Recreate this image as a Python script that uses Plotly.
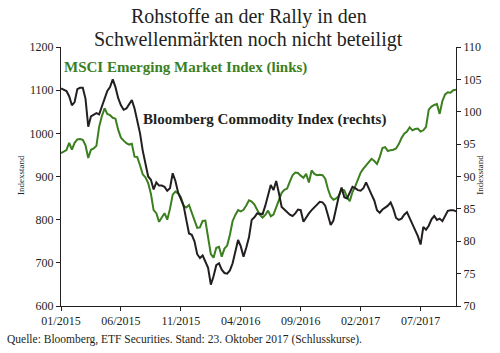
import pandas as pd
import plotly.graph_objects as go

# Weekly observations (Fridays), Jan 2015 - Oct 2017
dates = pd.date_range("2015-01-02", periods=146, freq="7D")

msci = [954, 958, 961, 978, 962, 978, 986, 987, 985, 972,
        943, 962, 965, 971, 1015, 1040, 1058, 1045, 1042, 1036,
        1034, 1008, 990, 983, 977, 974, 976, 946, 945, 926,
        905, 898, 885, 860, 822, 815, 795, 805, 815, 800,
        825, 858, 865, 861, 852, 832, 828, 834, 815, 801,
        781, 782, 797, 798, 756, 720, 712, 735, 737, 714,
        733, 740, 765, 797, 811, 822, 819, 823, 833, 845,
        842, 835, 823, 811, 805, 811, 821, 808, 812, 830,
        848, 862, 869, 872, 888, 903, 909, 908, 902, 897,
        906, 886, 914, 906, 903, 904, 903, 895, 871, 853,
        846, 849, 855, 870, 868, 852, 843, 864, 877, 893,
        909, 918, 925, 932, 941, 936, 929, 945, 966, 968,
        959, 961, 962, 965, 975, 989, 999, 1004, 1014, 1007,
        1010, 1011, 1004, 1007, 1015, 1055, 1062, 1066, 1068, 1045,
        1075, 1090, 1095, 1094, 1100, 1101]

bcom = [103.6, 103.4, 103.2, 102.4, 101.0, 101.5, 103.5, 103.7, 103.7, 102.0,
        97.7, 99.3, 99.5, 99.8, 99.6, 100.8, 102.3, 103.2, 103.8, 105.0,
        103.8, 102.1, 101.0, 100.3, 100.5, 101.1, 101.8, 100.5, 98.7, 96.7,
        94.0, 91.8, 90.0, 89.5, 88.0, 89.1, 88.6, 88.6, 88.4, 87.8,
        88.2, 90.5, 89.3, 87.5, 86.6, 85.5, 83.3, 81.2, 81.0, 80.0,
        78.0, 77.4, 77.8, 76.8, 75.9, 73.3, 74.6, 76.3, 76.6, 75.6,
        75.1, 75.0, 75.5, 76.6, 78.3, 80.2, 79.2, 77.6, 79.0, 80.6,
        83.3, 83.7, 84.3, 84.2, 84.2, 85.5, 87.0, 88.7, 87.9, 89.3,
        87.4, 85.3, 84.9, 84.5, 84.1, 83.9, 84.3, 84.9, 84.8, 83.0,
        83.7, 84.3, 84.8, 85.2, 85.6, 86.1, 86.0, 85.5, 84.0, 82.5,
        83.2, 85.3, 87.0, 88.3, 86.8, 86.6, 87.5, 88.4, 88.2, 87.9,
        87.8, 88.2, 89.1, 88.0, 87.2, 86.3, 84.8, 84.4, 84.9, 85.2,
        85.5, 86.0, 85.0, 83.6, 83.3, 83.5, 84.1, 84.5, 83.6, 82.6,
        81.6, 80.8, 79.5, 82.2, 81.8, 82.4, 83.4, 83.9, 83.3, 83.5,
        83.1, 83.9, 84.7, 84.8, 84.8, 84.6]

tick_labels = ["01/2015", "06/2015", "11/2015", "04/2016", "09/2016", "02/2017", "07/2017"]
tick_dates = [dates[i] for i in (0, 22, 44, 66, 88, 110, 132)]

title_lines = ["Rohstoffe an der Rally in den", "Schwellenmärkten noch nicht beteiligt"]

GREEN = "#3b7f1f"
BLACK = "#231f20"
FONT = "Liberation Serif"

fig = go.Figure()
fig.add_trace(go.Scatter(x=dates, y=msci, mode="lines", name="MSCI",
                         line=dict(color=GREEN, width=2), yaxis="y"))
fig.add_trace(go.Scatter(x=dates, y=bcom, mode="lines", name="BCOM",
                         line=dict(color=BLACK, width=2), yaxis="y2"))

axis_common = dict(showline=True, linecolor=BLACK, linewidth=1, showgrid=False,
                   zeroline=False, ticks="outside", ticklen=4, tickcolor=BLACK,
                   tickfont=dict(family=FONT, size=12, color=BLACK))

fig.update_layout(
    width=500, height=353,
    margin=dict(l=61, r=44, t=47, b=47),
    paper_bgcolor="white", plot_bgcolor="white",
    showlegend=False,
    font=dict(family=FONT, color=BLACK),
    xaxis=dict(type="date", range=[dates[0], dates[-1]],
               tickmode="array", tickvals=tick_dates, ticktext=tick_labels,
               **axis_common),
    yaxis=dict(range=[600, 1200], dtick=100, **axis_common),
    yaxis2=dict(range=[70, 110], dtick=5, overlaying="y", side="right",
                **axis_common),
)

annotations = [
    dict(text=title_lines[0], x=0.475, y=1.118, xref="paper", yref="paper",
         xanchor="center", yanchor="middle", showarrow=False,
         font=dict(family=FONT, size=20, color=BLACK)),
    dict(text=title_lines[1], x=0.475, y=1.029, xref="paper", yref="paper",
         xanchor="center", yanchor="middle", showarrow=False,
         font=dict(family=FONT, size=20, color=BLACK)),
    dict(text="Indexstand", x=-0.119, y=0.506, xref="paper", yref="paper",
         textangle=-90, showarrow=False, font=dict(family=FONT, size=9, color=BLACK)),
    dict(text="Indexstand", x=1.078, y=0.506, xref="paper", yref="paper",
         textangle=-90, showarrow=False, font=dict(family=FONT, size=9, color=BLACK)),
    dict(text="<b>MSCI Emerging Market Index (links)</b>", x=0.0025, y=0.919,
         xref="paper", yref="paper", xanchor="left", yanchor="middle", showarrow=False,
         font=dict(family=FONT, size=15, color=GREEN)),
    dict(text="<b>Bloomberg Commodity Index (rechts)</b>", x=0.2025, y=0.722,
         xref="paper", yref="paper", xanchor="left", yanchor="middle", showarrow=False,
         font=dict(family=FONT, size=15, color=BLACK)),
    dict(text="Quelle: Bloomberg, ETF Securities. Stand: 23. Oktober 2017 (Schlusskurse).",
         x=-0.142, y=-0.131, xref="paper", yref="paper", xanchor="left", yanchor="middle",
         showarrow=False, font=dict(family=FONT, size=11.5, color=BLACK)),
]
fig.update_layout(annotations=annotations)

fig.write_html("out.html")
